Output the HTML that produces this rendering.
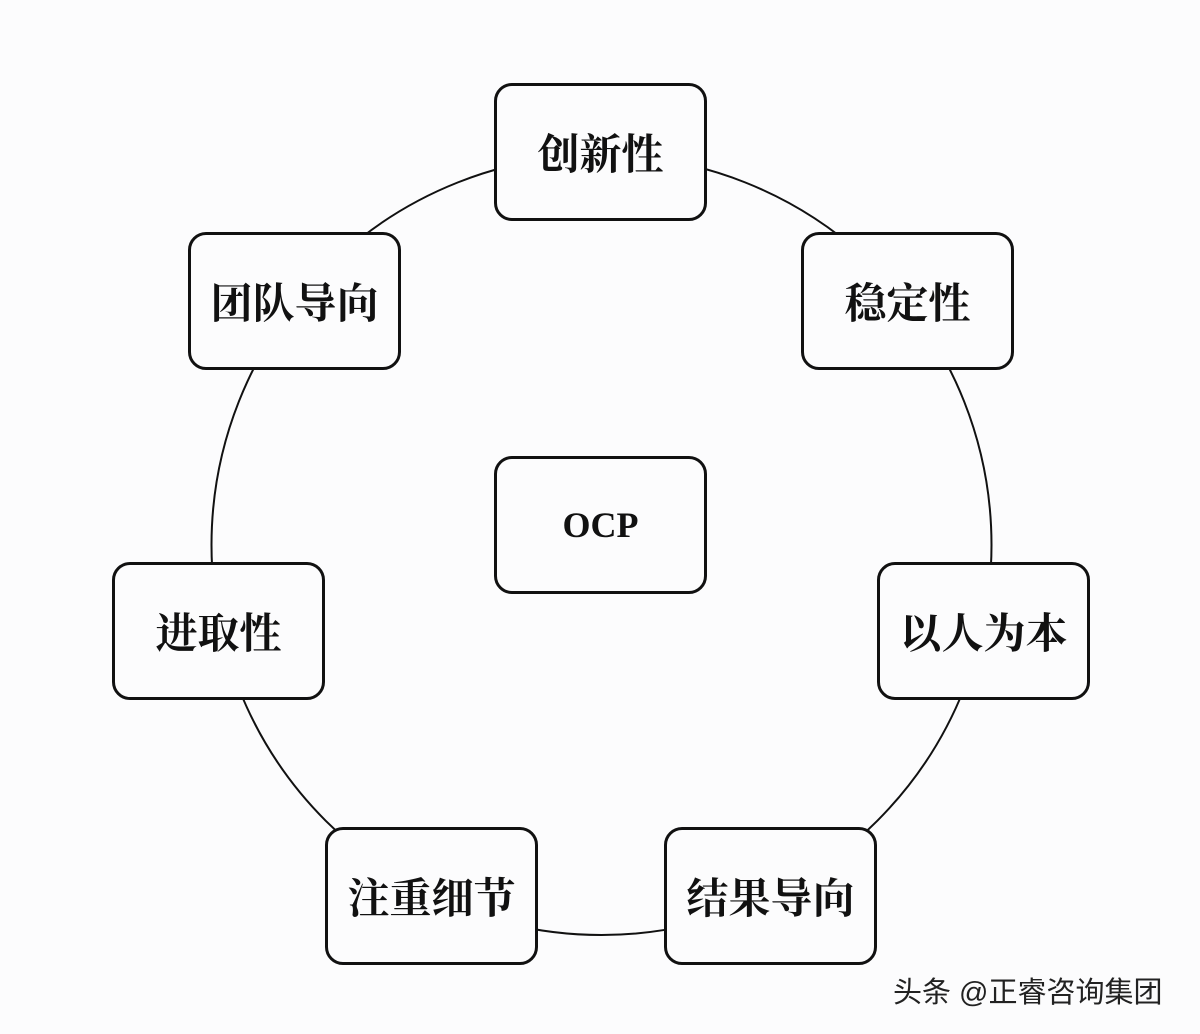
<!DOCTYPE html>
<html><head><meta charset="utf-8"><style>
html,body{margin:0;padding:0;background:#fcfcfd;}
.wrap{position:relative;width:1200px;height:1034px;overflow:hidden;}
.box{position:absolute;width:207px;height:132px;border:3px solid #111;border-radius:18px;background:#fcfcfd;display:flex;align-items:center;justify-content:center;font-family:"Liberation Serif","Noto Serif CJK SC",serif;font-weight:bold;font-size:42px;color:#111;box-sizing:content-box;}
.wm{position:absolute;left:893px;top:969px;font-family:"Liberation Sans","Noto Sans CJK SC",sans-serif;font-size:29px;color:#222;}
</style></head><body><div class="wrap">
<svg width="1200" height="1034" style="position:absolute;left:0;top:0"><circle cx="601.5" cy="545" r="390" fill="none" stroke="#111" stroke-width="2"/></svg>
<div class="box" style="left:494px;top:83px">创新性</div>
<div class="box" style="left:801px;top:232px">稳定性</div>
<div class="box" style="left:188px;top:232px">团队导向</div>
<div class="box" style="left:494px;top:456px;font-size:36px">OCP</div>
<div class="box" style="left:112px;top:562px">进取性</div>
<div class="box" style="left:877px;top:562px">以人为本</div>
<div class="box" style="left:325px;top:827px">注重细节</div>
<div class="box" style="left:664px;top:827px">结果导向</div>
<div class="wm">头条 @正睿咨询集团</div>
</div></body></html>
